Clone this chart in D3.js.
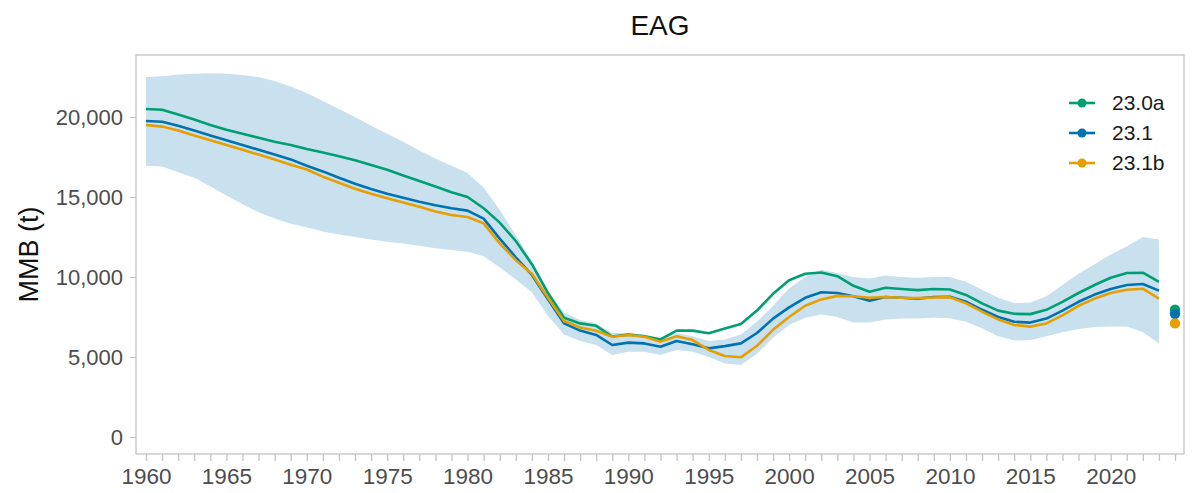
<!DOCTYPE html>
<html>
<head>
<meta charset="utf-8">
<script src="https://cdn.jsdelivr.net/npm/d3@7"></script>
<style>
  html, body { margin: 0; padding: 0; background: #fff; }
  svg { display: block; font-family: "Liberation Sans", Arial, sans-serif; }
</style>
</head>
<body>
<svg id="chart" width="1199" height="493"></svg>
<script>
// Mature male biomass (t), EAG stock, by model scenario
const years = d3.range(1960, 2024);

const mmb230a = [
  20500, 20450, 20150, 19850, 19500, 19200, 18950, 18700, 18450, 18250,
  18000, 17780, 17550, 17300, 17000, 16700, 16350, 16000, 15650, 15300,
  15000, 14300, 13400, 12250, 10800, 9000, 7450, 7100, 6950, 6280,
  6400, 6300, 6100, 6650, 6650, 6480, 6780, 7060, 7900, 8950,
  9800, 10200, 10280, 10050, 9450, 9080, 9330, 9250, 9180, 9250,
  9220, 8880, 8350, 7900, 7700, 7680, 7950, 8450, 9000, 9500,
  9950, 10250, 10270, 9700
];

const mmb231 = [
  19750, 19700, 19450, 19150, 18850, 18550, 18250, 17950, 17650, 17350,
  16950, 16600, 16200, 15830, 15500, 15200, 14950, 14700, 14480, 14300,
  14150, 13650, 12400, 11230, 10130, 8600, 7100, 6650, 6380, 5750,
  5900, 5850, 5640, 6000, 5800, 5540, 5680, 5850, 6500, 7400,
  8100, 8700, 9050, 9000, 8800, 8520, 8750, 8700, 8650, 8750,
  8770, 8460, 7950, 7500, 7200, 7150, 7400, 7900, 8450, 8900,
  9250, 9500, 9560, 9150
];

const mmb231b = [
  19500, 19400, 19150, 18850, 18550, 18250, 17950, 17650, 17350, 17020,
  16720, 16270, 15890, 15510, 15200, 14920, 14650, 14390, 14100, 13870,
  13750, 13350, 12100, 11050, 10200, 8700, 7250, 6850, 6640, 6270,
  6370, 6270, 5960, 6300, 6060, 5440, 5060, 4980, 5700, 6700,
  7500, 8200, 8600, 8820, 8800, 8700, 8750, 8700, 8680, 8720,
  8740, 8360, 7830, 7350, 7000, 6900, 7100, 7600, 8200, 8650,
  9000, 9200, 9270, 8650
];

// Confidence band (upper / lower)
const bandUpper = [
  22500, 22550, 22650, 22700, 22730, 22700, 22620, 22500, 22250, 21900,
  21500, 21000, 20500, 20000, 19450, 18950, 18450, 17900, 17400, 16950,
  16500, 15600, 14200, 12600, 11000, 9100, 7800, 7310, 7100, 6500,
  6500, 6400, 6200, 6500, 6300, 6000, 6100, 6400, 7200, 8200,
  9300, 10000, 10450, 10250, 10000, 9900, 10100, 10000, 9950, 10000,
  10000, 9700, 9200, 8700, 8380, 8400, 8800, 9500, 10200, 10800,
  11400, 11900, 12500, 12350
];

const bandLower = [
  16950, 16900, 16550, 16200, 15650, 15100, 14550, 14050, 13650, 13350,
  13100, 12850, 12650, 12500, 12350, 12200, 12100, 11950, 11800, 11680,
  11580, 11300, 10600, 9850, 9050, 7570, 6400, 6000, 5750, 5130,
  5330, 5330, 5130, 5440, 5330, 5000, 4600, 4500, 5200, 6200,
  7000, 7450, 7650, 7500, 7150, 7150, 7350, 7400, 7400, 7450,
  7420, 7200, 6800, 6300, 6030, 6050, 6300, 6550, 6750, 6880,
  6900, 6900, 6550, 5850
];

// Current-year point estimates
const pointYear = 2024;
const pointValues = [7950, 7700, 7100];

const seriesNames = ["23.0a", "23.1", "23.1b"];
const seriesColors = ["#009E73", "#0072B2", "#E69F00"];
const seriesValues = [mmb230a, mmb231, mmb231b];

const yTicks = [0, 5000, 10000, 15000, 20000];
const xLabelYears = d3.range(1960, 2021, 5);
const xTickYears = d3.range(1960, 2025);

const title = "EAG";
const yTitle = "MMB (t)";

// Layout
const panel = { left: 136, right: 1184, top: 55, bottom: 454 };

const svg = d3.select("#chart");

const x = d3.scaleLinear()
  .domain([1960, 2024])
  .range([146, 1175]);

const y = d3.scaleLinear()
  .domain([0, 20000])
  .range([437, 117]);

// Panel border
svg.append("rect")
  .attr("x", panel.left)
  .attr("y", panel.top)
  .attr("width", panel.right - panel.left)
  .attr("height", panel.bottom - panel.top)
  .attr("fill", "none")
  .attr("stroke", "#c4c4c4")
  .attr("stroke-width", 1.3);

// Confidence band
const bandData = years.map((yr, i) => ({ yr, lo: bandLower[i], hi: bandUpper[i] }));
svg.append("path")
  .datum(bandData)
  .attr("fill", "#c9e1ef")
  .attr("stroke", "none")
  .attr("d", d3.area()
    .x(d => x(d.yr))
    .y0(d => y(d.lo))
    .y1(d => y(d.hi)));

// Series lines
seriesValues.forEach((vals, s) => {
  svg.append("path")
    .datum(years.map((yr, i) => ({ yr, v: vals[i] })))
    .attr("fill", "none")
    .attr("stroke", seriesColors[s])
    .attr("stroke-width", 2.6)
    .attr("stroke-linejoin", "round")
    .attr("d", d3.line().x(d => x(d.yr)).y(d => y(d.v)));
});

// Point estimates
svg.append("g")
  .selectAll("circle")
  .data(pointValues)
  .join("circle")
  .attr("cx", x(pointYear))
  .attr("cy", d => y(d))
  .attr("r", 5.2)
  .attr("fill", (d, i) => seriesColors[i]);

// Y axis
const yAxis = d3.axisLeft(y)
  .tickValues(yTicks)
  .tickSize(6)
  .tickPadding(7)
  .tickFormat(d3.format(",.0f"));

const gy = svg.append("g")
  .attr("transform", `translate(${panel.left},0)`)
  .call(yAxis);
gy.select(".domain").remove();
gy.selectAll(".tick line").attr("stroke", "#c4c4c4").attr("stroke-width", 1.3);
gy.selectAll(".tick text")
  .attr("fill", "#4d4d4d")
  .style("font-size", "22px")
  .attr("dy", "0.35em");

// X axis
const xAxis = d3.axisBottom(x)
  .tickValues(xTickYears)
  .tickSize(7)
  .tickPadding(7)
  .tickFormat(d => xLabelYears.includes(d) ? String(d) : "");

const gx = svg.append("g")
  .attr("transform", `translate(0,${panel.bottom})`)
  .call(xAxis);
gx.select(".domain").remove();
gx.selectAll(".tick line").attr("stroke", "#c4c4c4").attr("stroke-width", 1.3);
gx.selectAll(".tick text")
  .attr("fill", "#4d4d4d")
  .style("font-size", "22.5px");

// Title
svg.append("text")
  .attr("x", (panel.left + panel.right) / 2)
  .attr("y", 35)
  .attr("text-anchor", "middle")
  .attr("fill", "#111")
  .style("font-size", "28px")
  .text(title);

// Y axis title
svg.append("text")
  .attr("transform", `translate(38,${(panel.top + panel.bottom) / 2}) rotate(-90)`)
  .attr("text-anchor", "middle")
  .attr("fill", "#111")
  .style("font-size", "27px")
  .text(yTitle);

// Legend
const legend = svg.append("g");
seriesNames.forEach((name, i) => {
  const ly = 103 + i * 30;
  legend.append("line")
    .attr("x1", 1069).attr("x2", 1095)
    .attr("y1", ly).attr("y2", ly)
    .attr("stroke", seriesColors[i])
    .attr("stroke-width", 2.6);
  legend.append("circle")
    .attr("cx", 1082).attr("cy", ly).attr("r", 4.5)
    .attr("fill", seriesColors[i]);
  legend.append("text")
    .attr("x", 1112).attr("y", ly)
    .attr("dy", "0.35em")
    .attr("fill", "#1a1a1a")
    .style("font-size", "21px")
    .text(name);
});
</script>
</body>
</html>
